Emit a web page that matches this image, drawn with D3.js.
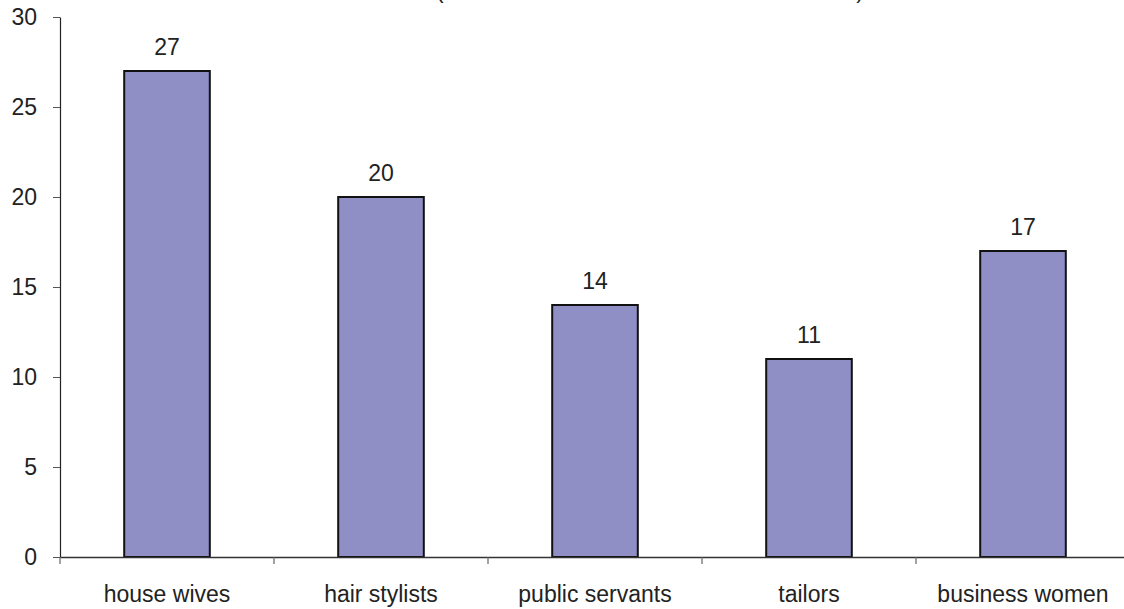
<!DOCTYPE html>
<html>
<head>
<meta charset="utf-8">
<script src="https://cdn.jsdelivr.net/npm/d3@7/dist/d3.min.js"></script>
<style>
  html, body { margin: 0; padding: 0; background: #fff; }
  svg { display: block; }
  text { font-family: "Liberation Sans", Arial, sans-serif; fill: #222; }
</style>
</head>
<body>
<svg id="chart" width="1124" height="609"></svg>
<script>
// Occupations and counts
const categories = ["house wives", "hair stylists", "public servants", "tailors", "business women"];
const counts = [27, 20, 14, 11, 17];
const yTicks = [0, 5, 10, 15, 20, 25, 30];

const svg = d3.select("#chart");
const plotLeft = 60, plotRight = 1130, plotTop = 17, plotBottom = 557;
const fontSize = "23px";

const x = d3.scaleBand().domain(categories).range([plotLeft, plotRight]).padding(0);
const y = d3.scaleLinear().domain([0, 30]).range([plotBottom, plotTop]);
const barW = x.bandwidth() * 0.4;

// Title brackets, running off the top edge
svg.append("text").attr("x", 440).attr("y", -2).attr("text-anchor", "middle")
  .style("font-size", "22px").text("(");
svg.append("text").attr("x", 860).attr("y", -2).attr("text-anchor", "middle")
  .style("font-size", "22px").text(")");

// Bars
svg.append("g").selectAll("rect").data(categories).join("rect")
  .attr("x", (d) => x(d) + (x.bandwidth() - barW) / 2)
  .attr("y", (d, i) => y(counts[i]))
  .attr("width", barW)
  .attr("height", (d, i) => y(0) - y(counts[i]))
  .attr("fill", "#8f8fc6")
  .attr("stroke", "#111")
  .attr("stroke-width", 2);

// Value labels
svg.append("g").selectAll("text").data(categories).join("text")
  .attr("x", (d) => x(d) + x.bandwidth() / 2)
  .attr("y", (d, i) => y(counts[i]) - 16)
  .attr("text-anchor", "middle")
  .style("font-size", fontSize)
  .text((d, i) => counts[i]);

// Y axis
const yAxis = svg.append("g").attr("transform", `translate(${plotLeft},0)`)
  .call(d3.axisLeft(y).tickValues(yTicks).tickSize(7).tickPadding(16).tickSizeOuter(0));
yAxis.select(".domain").attr("stroke", "#222").attr("stroke-width", 1.2);
yAxis.selectAll(".tick line").attr("stroke", "#555");
yAxis.selectAll(".tick text").style("font-size", fontSize).style("font-family", "Liberation Sans, Arial, sans-serif").attr("fill", "#222");

// X axis with category labels
const xAxis = svg.append("g").attr("transform", `translate(0,${plotBottom})`)
  .call(d3.axisBottom(x).tickSize(0).tickPadding(29).tickSizeOuter(0));
xAxis.select(".domain").attr("stroke", "#333").attr("stroke-width", 1.5);
xAxis.selectAll(".tick text").style("font-size", fontSize).style("font-family", "Liberation Sans, Arial, sans-serif").attr("fill", "#222");

// Separator ticks between categories
const bounds = categories.map((d) => x(d)).concat([plotRight]);
svg.append("g").selectAll("line").data(bounds).join("line")
  .attr("x1", (d) => d).attr("x2", (d) => d)
  .attr("y1", plotBottom).attr("y2", plotBottom + 7)
  .attr("stroke", "#666").attr("stroke-width", 1.2);
</script>
</body>
</html>
